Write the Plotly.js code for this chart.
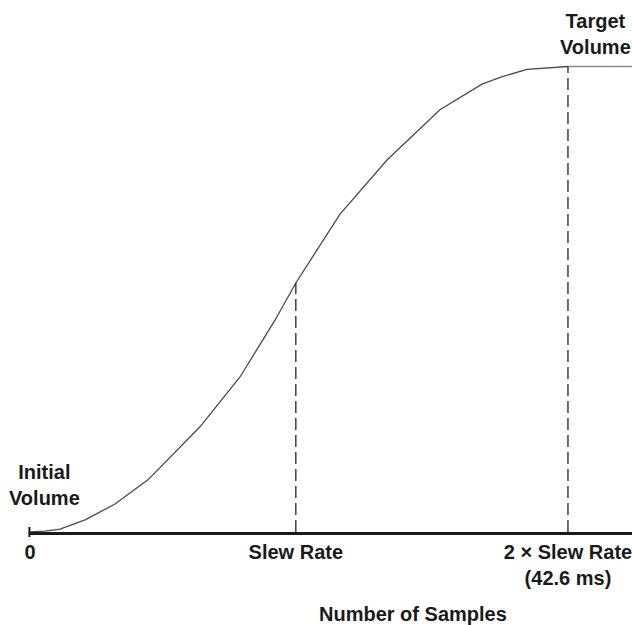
<!DOCTYPE html>
<html>
<head>
<meta charset="utf-8">
<script src="https://cdn.plot.ly/plotly-3.0.1.min.js"></script>
<style>
  html, body { margin: 0; padding: 0; background: #ffffff; }
  #chart { width: 632px; height: 625px; }
</style>
</head>
<body>
<div id="chart"></div>
<script>
// Time axis in ms (2 x Slew Rate = 42.6 ms), volume normalised 0 (initial) .. 1 (target)
const rampTimeMs = [0, 1.19, 2.38, 4.36, 6.73, 9.34, 13.46, 16.63, 19.40, 21.05, 24.55, 28.27, 32.46, 35.79, 37.29, 39.35, 42.6];
const rampVolume = [0, 0.002, 0.006, 0.026, 0.060, 0.112, 0.226, 0.333, 0.455, 0.535, 0.683, 0.799, 0.907, 0.962, 0.977, 0.994, 1.0];
const holdTimeMs = [42.6, 47.67];
const holdVolume = [1.0, 1.0];

const slewTimeMs = 21.05;        // where the "Slew Rate" marker sits
const slewVolume = 0.535;
const doubleSlewTimeMs = 42.6;   // 2 x Slew Rate
const targetVolume = 1.0;

const tickValues = [0, slewTimeMs, doubleSlewTimeMs];
const tickLabels = ["0", "Slew Rate", "2 \u00d7 Slew Rate<br>(42.6 ms)"];

const xMax = 47.67;

const FONT = "Liberation Sans, Arial, Helvetica, sans-serif";
const INK = "#1a1a1a";

const traces = [
  {
    x: rampTimeMs, y: rampVolume, type: "scatter", mode: "lines",
    line: { color: "#4a4a4a", width: 1.3 },
    hoverinfo: "skip", showlegend: false
  },
  {
    x: holdTimeMs, y: holdVolume, type: "scatter", mode: "lines",
    line: { color: "#8a8a8a", width: 1.6 },
    hoverinfo: "skip", showlegend: false
  }
];

const layout = {
  width: 632, height: 625,
  margin: { l: 30, r: 0, t: 10, b: 93, pad: 0 },
  paper_bgcolor: "#ffffff",
  plot_bgcolor: "#ffffff",
  showlegend: false,
  font: { family: FONT, color: INK, size: 20 },
  xaxis: {
    range: [0, xMax],
    showgrid: false, zeroline: false,
    showline: true, linecolor: INK, linewidth: 2.5,
    ticks: "",
    tickmode: "array", tickvals: tickValues, ticktext: tickLabels,
    ticklabeloverflow: "allow",
    tickfont: { family: FONT, size: 20, color: INK, weight: "bold" },
    fixedrange: true
  },
  yaxis: {
    range: [0, 522 / 465.5],
    visible: false, showgrid: false, zeroline: false, fixedrange: true
  },
  shapes: [
    { type: "line", xref: "x", yref: "y", x0: slewTimeMs, x1: slewTimeMs, y0: 0, y1: slewVolume,
      line: { color: "#222222", width: 1.3, dash: "12px,5px" } },
    { type: "line", xref: "x", yref: "y", x0: doubleSlewTimeMs, x1: doubleSlewTimeMs, y0: 0, y1: targetVolume,
      line: { color: "#222222", width: 1.3, dash: "12px,5px" } },
    { type: "line", xref: "paper", yref: "paper", x0: -0.001, x1: -0.001, y0: -0.0096, y1: 0.0096,
      line: { color: INK, width: 2 } }
  ],
  annotations: [
    { xref: "paper", yref: "paper", x: (44 - 30) / 602, y: (532 - 485) / 522,
      xanchor: "center", yanchor: "middle", align: "center", showarrow: false,
      text: "Initial<br>Volume", font: { family: FONT, size: 20, color: INK, weight: "bold" } },
    { xref: "paper", yref: "paper", x: (595 - 30) / 602, y: (532 - 34) / 522,
      xanchor: "center", yanchor: "middle", align: "center", showarrow: false,
      text: "Target<br>Volume", font: { family: FONT, size: 20, color: INK, weight: "bold" } },
    { xref: "paper", yref: "paper", x: (413 - 30) / 602, y: (532 - 614) / 522,
      xanchor: "center", yanchor: "middle", align: "center", showarrow: false,
      text: "Number of Samples", font: { family: FONT, size: 20, color: INK, weight: "bold" } }
  ]
};

Plotly.newPlot("chart", traces, layout, { displayModeBar: false, staticPlot: true });
</script>
</body>
</html>
